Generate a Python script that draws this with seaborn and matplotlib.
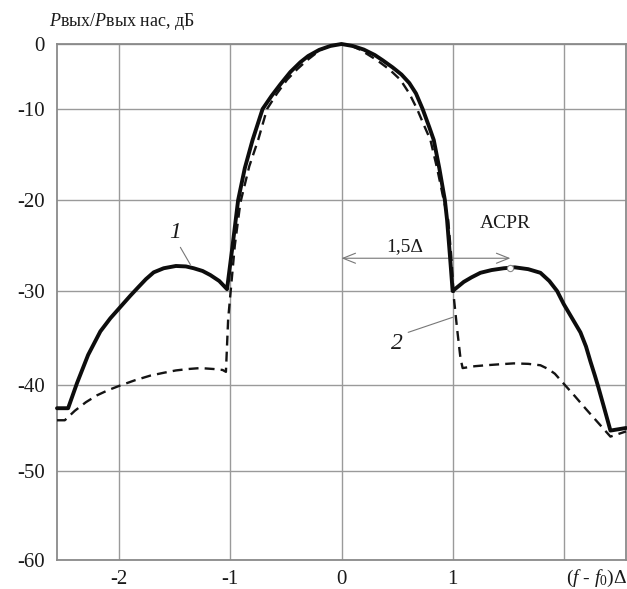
import numpy as np
import pandas as pd
import matplotlib
matplotlib.use("Agg")
import matplotlib.pyplot as plt
import seaborn as sns

# ---- data ----
x_curve1 = [-2.56, -2.46, -2.38, -2.28, -2.17, -2.08, -1.99, -1.90, -1.83, -1.76,
            -1.69, -1.60, -1.49, -1.40, -1.33, -1.25, -1.18, -1.10, -1.03,
            -0.98, -0.93, -0.87, -0.80, -0.71, -0.63, -0.55, -0.46, -0.37, -0.30,
            -0.20, -0.10, 0.0, 0.10, 0.20, 0.30, 0.37, 0.46, 0.54, 0.61, 0.67,
            0.73, 0.79, 0.83, 0.88, 0.93, 0.95, 0.975, 1.00,
            1.05, 1.10, 1.17, 1.25, 1.35, 1.46, 1.56, 1.68, 1.79, 1.87,
            1.94, 2.00, 2.08, 2.15, 2.20, 2.24, 2.28, 2.31, 2.36, 2.42, 2.56]
y_curve1 = [-42.7, -42.7, -39.8, -36.8, -34.3, -32.9, -31.7, -30.5, -29.6, -28.7,
            -27.95, -27.5, -27.25, -27.3, -27.5, -27.8, -28.25, -28.9, -29.8,
            -25.0, -20.0, -16.5, -13.4, -10.0, -8.0, -6.2, -4.3, -2.8, -1.85,
            -0.9, -0.3, 0.0, -0.3, -0.85, -1.7, -2.5, -3.6, -4.7, -6.0, -7.6,
            -10.0, -12.0, -13.4, -16.5, -20.0, -22.2, -26.0, -30.0,
            -29.5, -29.0, -28.5, -28.0, -27.7, -27.5, -27.4, -27.6, -28.0, -28.9,
            -30.0, -31.4, -33.0, -34.4, -35.9, -37.5, -39.0, -40.2, -42.5, -45.3, -45.0]

x_curve2 = [-2.56, -2.49, -2.40, -2.30, -2.20, -2.10, -2.00, -1.86, -1.72, -1.60,
            -1.49, -1.38, -1.27, -1.15, -1.07, -1.04,
            -1.02, -0.96, -0.91, -0.83, -0.75, -0.67, -0.58, -0.49, -0.40, -0.31,
            -0.19, -0.09, 0.0, 0.08, 0.17, 0.32, 0.43, 0.53, 0.61, 0.68,
            0.75, 0.80, 0.86, 0.92, 0.96, 0.99, 1.01, 1.04, 1.07, 1.09,
            1.20, 1.30, 1.42, 1.55, 1.68, 1.79, 1.86, 1.92, 2.01, 2.10,
            2.20, 2.31, 2.42, 2.56]
y_curve2 = [-44.1, -44.1, -43.0, -42.0, -41.2, -40.6, -40.1, -39.5, -39.0, -38.7,
            -38.45, -38.3, -38.2, -38.3, -38.4, -38.6,
            -33.0, -25.0, -20.3, -16.3, -13.4, -10.0, -7.6, -5.5, -3.9, -2.5,
            -0.9, -0.2, 0.0, -0.2, -0.9, -2.5, -3.9, -5.5, -7.6, -10.0,
            -12.0, -13.4, -16.5, -20.0, -22.2, -26.5, -30.6, -34.0, -37.1, -38.2,
            -38.0, -37.9, -37.8, -37.7, -37.75, -37.9, -38.3, -38.8, -40.0, -41.3,
            -42.8, -44.4, -46.0, -45.4]

x_ticks = [-2, -1, 0, 1, 2]
x_tick_labels = ["-2", "-1", "0", "1", ""]
y_ticks = [0, -10, -20, -30, -40, -50, -60]
y_tick_labels = ["0", "-10", "-20", "-30", "-40", "-50", "-60"]

# vertical position of each y gridline in the reference (pixels from top)
grid_pos = [44, 109, 200, 291, 385, 471, 560]

# ---- style ----
sns.set_style("white")
plt.rcParams["font.family"] = ["Liberation Serif", "DejaVu Serif"]
plt.rcParams["mathtext.fontset"] = "custom"
plt.rcParams["mathtext.rm"] = "Liberation Serif"
plt.rcParams["mathtext.it"] = "Liberation Serif:italic"

# piecewise scale that reproduces the reference's uneven gridline spacing
_vals = np.array([-70] + sorted(y_ticks) + [10], dtype=float)
_pix = np.array([grid_pos[-1] + 89] + grid_pos[::-1] + [grid_pos[0] - 65], dtype=float)
_pos = -_pix  # increasing with value


def fwd(v):
    return np.interp(v, _vals, _pos)


def inv(p):
    return np.interp(p, _pos, _vals)


fig = plt.figure(figsize=(6.27, 5.89), dpi=100)
ax = fig.add_axes([57 / 627, 29 / 589, 569 / 627, 516 / 589])
ax.set_yscale("function", functions=(fwd, inv))

df1 = pd.DataFrame({"x": x_curve1, "y": y_curve1})
df2 = pd.DataFrame({"x": x_curve2, "y": y_curve2})

sns.lineplot(data=df2, x="x", y="y", ax=ax, color="#141414", linewidth=1.7,
             linestyle=(0, (4.2, 2.6)), sort=False, estimator=None, legend=False,
             clip_on=False, zorder=3)
sns.lineplot(data=df1, x="x", y="y", ax=ax, color="#0d0d0d", linewidth=2.8,
             sort=False, estimator=None, legend=False, clip_on=False, zorder=4)

ax.set_xlim(-2.56, 2.56)
ax.set_ylim(-60, 0)
ax.set_xticks(x_ticks)
ax.set_xticklabels(x_tick_labels)
ax.set_yticks(y_ticks)
ax.set_yticklabels(y_tick_labels)
ax.minorticks_off()
ax.tick_params(axis="both", length=0, labelsize=15, colors="#1a1a1a")
ax.tick_params(axis="y", pad=9)
ax.tick_params(axis="x", pad=7)
ax.set_xlabel("")
ax.set_ylabel("")

ax.grid(True, color="#9a9a9a", linewidth=1.0)
ax.set_axisbelow(True)
for s in ax.spines.values():
    s.set_color("#8a8a8a")
    s.set_linewidth(1.3)

# axis titles
fig.text(49 / 627, 1 - 22 / 589, r"$P$вых/$P$вых нас, дБ", fontsize=13,
         ha="left", va="center", color="#1a1a1a")
fig.text(1.0, 1 - 578 / 589, r"($f$ - $f_0$)Δ", fontsize=14,
         ha="right", va="center", color="#1a1a1a")

# annotations
gray = "#777777"
ax.text(-1.50, -23.6, "1", fontsize=17, style="italic", ha="center", va="center",
        color="#1a1a1a")
ax.plot([-1.45, -1.36], [-25.2, -27.1], color=gray, lw=0.8)
ax.text(0.50, -35.6, "2", fontsize=17, style="italic", ha="center", va="center",
        color="#1a1a1a")
ax.plot([0.60, 1.0], [-34.4, -32.8], color=gray, lw=0.8)

ax.annotate("", xy=(0.0, -26.4), xytext=(1.52, -26.4),
            arrowprops=dict(arrowstyle="<->,head_length=0.45,head_width=0.18",
                            color=gray, lw=0.8, shrinkA=0, shrinkB=0,
                            mutation_scale=20))
ax.text(0.57, -25.1, "1,5Δ", fontsize=14, ha="center", va="center", color="#1a1a1a")
ax.text(1.47, -22.6, "ACPR", fontsize=14, ha="center", va="center", color="#1a1a1a")
ax.plot([1.52], [-27.45], marker="o", markersize=4.5, mfc="white", mec="#888888",
        mew=0.8, zorder=6, clip_on=False)

fig.savefig("out.png", dpi=100)
